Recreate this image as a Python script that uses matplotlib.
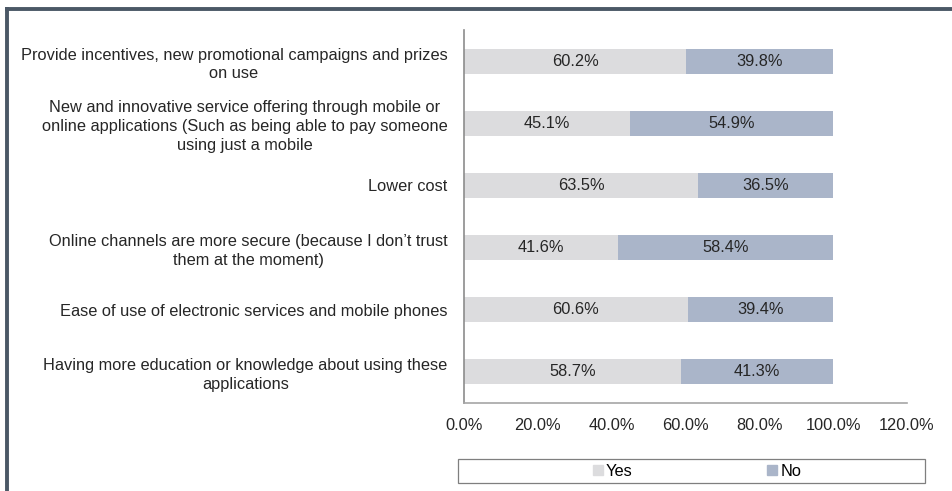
import matplotlib.pyplot as plt
from matplotlib.lines import Line2D
from matplotlib.patches import Rectangle, Patch

plt.rcParams['font.family'] = ['Liberation Sans', 'DejaVu Sans']

# Survey answers: what would make people use online/mobile channels more
factors = [
    "Provide incentives, new promotional campaigns and prizes\non use",
    "New and innovative service offering through mobile or\nonline applications (Such as being able to pay someone\nusing just a mobile",
    "Lower cost",
    "Online channels are more secure (because I don\u2019t trust\nthem at the moment)",
    "Ease of use of electronic services and mobile phones",
    "Having more education or knowledge about using these\napplications",
]
yes_pct = [60.2, 45.1, 63.5, 41.6, 60.6, 58.7]
no_pct = [39.8, 54.9, 36.5, 58.4, 39.4, 41.3]
x_ticks = [0, 20, 40, 60, 80, 100, 120]

yes_color = '#dcdcde'
no_color = '#aab5c9'
text_color = '#262626'
fs = 11.8

fig = plt.figure(figsize=(9.52, 4.91), dpi=100)
ax = fig.add_axes([464 / 952, 1 - 403 / 491, 443 / 952, 373 / 491])

pos = list(range(len(factors)))
ax.barh(pos, yes_pct, height=0.4, color=yes_color)
ax.barh(pos, no_pct, left=yes_pct, height=0.4, color=no_color)

for i in pos:
    ax.text(yes_pct[i] / 2, i, f"{yes_pct[i]:.1f}%", ha='center', va='center',
            fontsize=fs, color=text_color)
    ax.text(yes_pct[i] + no_pct[i] / 2, i, f"{no_pct[i]:.1f}%", ha='center',
            va='center', fontsize=fs, color=text_color)

ax.set_xlim(0, 120)
ax.set_ylim(len(factors) - 0.5, -0.5)
ax.set_xticks(x_ticks)
ax.set_xticklabels([f"{t:.1f}%" for t in x_ticks], fontsize=fs, color=text_color)
ax.set_yticks(pos)
ax.set_yticklabels(factors, fontsize=fs, color=text_color, multialignment='center',
                   linespacing=1.3)
ax.tick_params(axis='both', length=0)
ax.tick_params(axis='y', pad=12)
ax.tick_params(axis='x', pad=11)

for s in ['top', 'right']:
    ax.spines[s].set_visible(False)
ax.spines['left'].set_color('#8c8c8c')
ax.spines['bottom'].set_color('#a6a6a6')
ax.spines['left'].set_linewidth(1.2)
ax.spines['bottom'].set_linewidth(1.2)

# legend inside a plain box below the axis
fig.patches.append(Rectangle((458 / 952, 1 - 483 / 491), 467 / 952, 24 / 491,
                             transform=fig.transFigure, fill=False,
                             edgecolor='#7f7f7f', linewidth=0.9))
handles = [Patch(color=yes_color, label='Yes'), Patch(color=no_color, label='No')]
fig.legend(handles=handles, loc='center', bbox_to_anchor=(697 / 952, 1 - 471 / 491),
           ncol=2, frameon=False, fontsize=fs, handlelength=0.6, handleheight=0.6,
           handletextpad=0.2, columnspacing=8.2, borderpad=0)

# dark frame along the top and left edges
fig.add_artist(Line2D([7 / 952, 1], [1 - 9 / 491, 1 - 9 / 491], transform=fig.transFigure,
                      color='#4b5866', linewidth=2.8))
fig.add_artist(Line2D([7 / 952, 7 / 952], [0, 1 - 9 / 491], transform=fig.transFigure,
                      color='#4b5866', linewidth=2.8))

fig.savefig('out.png', dpi=100)
